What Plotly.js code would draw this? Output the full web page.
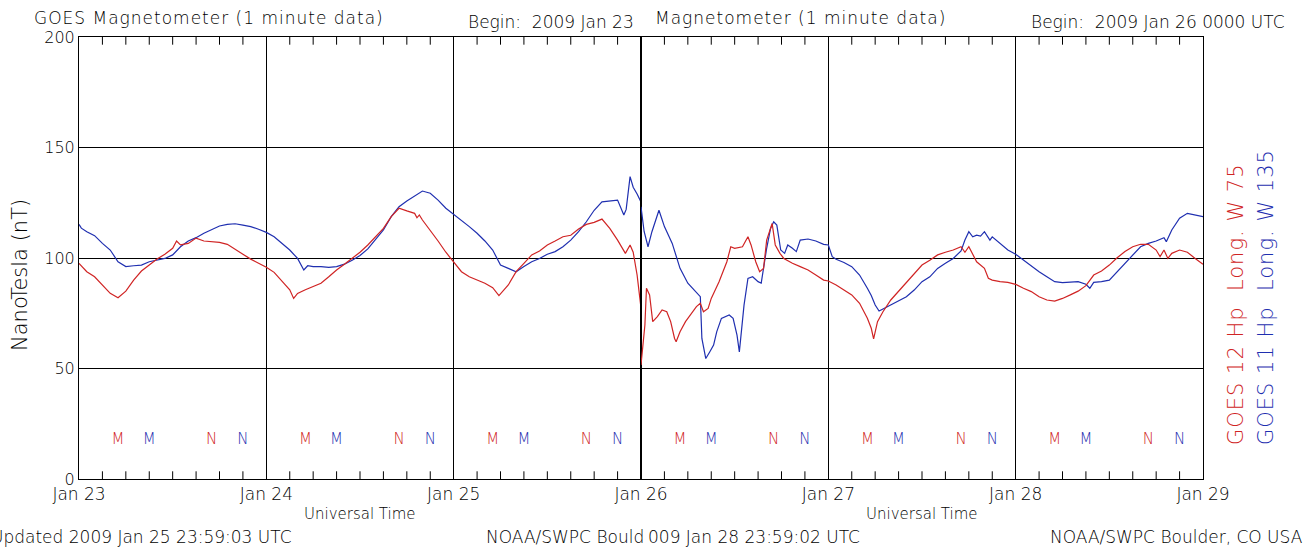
<!DOCTYPE html>
<html><head><meta charset="utf-8">
<script src="https://cdn.plot.ly/plotly-3.0.1.min.js"></script>
<style>html,body{margin:0;padding:0;background:#fff;overflow:hidden}#chart{width:1306px;height:548px}</style>
</head><body><div id="chart"></div>
<script>
// ---- data (hours since 2009 Jan 23 00:00 UT, field in nT) ----
const g12Hours = [0,1,2,3,4,5,6,7,8,9,10,11,12,12.5,13,14,15,16,17,18,19,20,21,22,23,24,25,26,27,27.5,28,29,30,31,32,33,34,35,36,37,38,39,40,41,42,43,43.3,43.6,44,45,46,47,48,49,50,51,52,53,53.8,55,56,57,58,59,60,61,62,63,64,65,66,67,68,69,70,70.6,71,71.5,71.9,71.98,
 72,72.5,72.7,73.1,73.5,74.1,74.7,75.3,75.8,76.3,76.5,77,77.7,78.2,78.7,79.1,79.6,80,80.6,81,82,83,83.5,84,85,85.7,86.1,86.7,87.2,87.7,88.1,88.8,89.2,89.8,90.3,91.4,92.4,93.4,94.4,95.4,96,97,98,99,100,101,101.5,101.8,102.3,103,104,105,106,107,108,109,110,111,112,113,113.5,114,114.5,115,116,116.5,117,118,119,120,121,122,123,124,125,126,127,128,129,130,131,132,133,134,135,136,137,138,138.5,139,139.5,140,141,142,143,144];
const g12Values = [97.6,93.8,91.5,87.8,84.0,82.0,85.0,90.0,94.1,96.8,99.5,101.7,104.4,107.7,105.9,106.6,109.0,107.7,107.4,107.1,106.2,104.1,101.7,99.5,97.6,95.8,93.5,89.3,85.6,81.7,84.0,85.6,87.1,88.6,91.5,94.6,97.2,99.8,102.6,105.9,109.6,113.4,118.7,122.5,121.3,120.2,118.2,119.5,117.2,112.7,107.7,102.6,98.0,93.8,91.5,90.0,88.6,86.6,83.0,87.8,93.8,97.6,101.4,103.2,105.9,107.7,109.6,110.3,113.1,115.2,116.1,117.6,113.4,108.1,102.1,105.9,102.6,92.3,81.8,78.0,
 51.6,69.7,86.3,83.3,71.2,73.5,76.5,75.7,71.2,63.6,62.1,66.6,71.2,73.5,75.7,78.0,79.5,75.7,77.2,81.7,89.3,98.3,105.1,104.4,105.1,109.6,105.9,98.3,93.8,95.3,108.1,115.6,105.9,102.1,99.8,97.6,96.1,94.6,92.3,90.0,89.6,87.8,85.5,83.3,79.5,72.7,68.2,63.4,71.2,75.7,81.0,85.0,89.3,93.0,96.8,99.0,101.4,102.6,103.6,105.1,102.6,105.1,101.4,98.3,95.3,90.8,90.0,89.3,89.0,88.1,86.3,84.8,82.5,81.0,80.5,81.7,83.3,85.0,87.5,92.3,94.1,96.8,100.1,102.9,105.1,106.2,106.2,103.6,100.6,103.6,99.8,102.1,103.6,102.6,99.8,97.2];

const g11Hours = [0,0.3,1,2,3,4,5,6,7,8,9,10,11,12,13,14,15,16,17,18,19,20,21,22,23,24,25,26,27,28,28.8,29.3,30,31,32,33,34,35,36,37,38,39,40,41,42,43,44,45,46,47,48,49,50,51,52,53,54,55,56,57,58,59,60,61,62,63,64,65,66,67,68,69,69.8,70.1,70.6,71.0,71.5,71.98,
 72,72.4,72.9,73.4,74.3,75,76,77,78,79,79.6,79.8,80.3,80.8,81.3,81.7,82.3,83.3,83.8,84.3,84.6,85.2,85.7,86.3,87,87.4,88.1,88.6,89,89.4,89.9,90.4,90.8,91.4,91.9,92.4,93.4,94.4,95.4,96,96.5,97,98,99,100,101,101.5,102,102.5,103,104,105,106,107,108,109,110,111,112,113,113.5,114,114.5,115,115.5,116,116.7,117,118,119,120,121,122,123,124,125,126,127,128,129,129.5,130,131,132,133,134,135,136,137,138,139,139.3,140,141,142,143,144];
const g11Values = [115.2,113.5,111.9,110.1,106.6,103.6,98.3,96.1,96.5,96.8,98.3,99.0,99.8,101.4,105.1,107.7,109.2,111.2,112.7,114.5,115.2,115.5,114.9,114.2,113.0,111.6,109.6,106.6,103.6,99.8,94.6,96.5,96.1,96.1,95.8,96.1,97.2,99.0,101.1,104.1,108.2,112.7,118.7,123.2,125.8,128.2,130.3,129.3,126.2,122.5,119.8,117.2,114.2,111.2,107.7,103.6,96.8,95.3,93.8,96.1,98.3,99.8,101.7,102.9,105.1,108.1,111.9,116.4,121.6,125.4,125.7,126.2,119.5,122.0,136.8,132.0,129.0,125.5,
 123.2,112.0,105.1,111.9,121.6,114.2,106.6,95.3,88.6,84.9,82.5,63.6,54.5,57.5,60.6,66.6,72.7,74.2,72.7,65.1,57.5,78.7,90.8,91.5,89.3,88.6,104.4,113.4,116.4,114.9,103.6,102.1,105.9,104.4,102.9,108.1,108.6,107.7,106.2,105.9,100.6,99.4,98.0,96.1,92.3,86.3,83.0,78.7,76.0,76.9,78.7,80.5,82.5,85.5,89.3,91.5,95.3,97.6,99.8,103.2,108.1,111.9,109.6,110.3,109.9,111.9,108.1,109.6,106.6,103.6,101.7,99.0,96.1,93.8,91.5,89.3,88.9,89.0,89.3,88.1,86.3,89.0,89.3,90.0,93.8,97.6,101.7,105.1,106.6,107.7,109.2,107.4,112.7,118.0,120.2,119.5,118.7];

// local midnight (M) / noon (N) markers, UT hour within each day
const markerUT = [5, 9, 17, 21];
const markerText = ['M', 'M', 'N', 'N'];
const markerSat = ['G12', 'G11', 'G12', 'G11'];
const markerLevel = 17.5;
const dayOffsets = [0, 1, 2, 3, 4, 5];

const leftTickHours = [0, 24, 48];
const leftTickText = ['Jan 23', 'Jan 24', 'Jan 25'];
const rightTickHours = [72, 96, 120, 144];
const rightTickText = ['Jan 26', 'Jan 27', 'Jan 28', 'Jan 29'];
const minorTickUT = [3, 6, 9, 12, 15, 18, 21];   // 3-hourly minor ticks within each day
const yTickVals = [0, 50, 100, 150, 200];
const yTickText = ['0', '50', '100', '150', '200'];

// ---- styling ----
const RED = '#d02424';
const BLUE = '#1f2fb0';
const FONT = 'DejaVu Sans';
const TXT = '#000';
const BASE = Date.UTC(2009, 0, 23);
const HOUR = 3600000;
const t = h => BASE + h * HOUR;
const F = (size, color) => ({family: FONT, size: size, color: color || TXT, weight: 300});

function split(hours, vals, right) {
  const x = [], y = [];
  hours.forEach((h, i) => { if ((h >= 72) === right) { x.push(t(h)); y.push(vals[i]); } });
  return {x, y};
}

const traces = [];
[[false, 'x', 'y'], [true, 'x2', 'y2']].forEach(([right, xa, ya]) => {
  // minor tick marks (axis decoration) at bottom and top frame, clipped to the inside half
  const tx = [], ty = [];
  dayOffsets.forEach(d => {
    if ((d >= 3) !== right) return;
    minorTickUT.forEach(u => { tx.push(t(d * 24 + u), t(d * 24 + u)); ty.push(0, 200); });
  });
  traces.push({x: tx, y: ty, xaxis: xa, yaxis: ya, mode: 'markers', cliponaxis: true,
    marker: {symbol: 'line-ns-open', size: 11, color: '#000', line: {color: '#000', width: 1}}, hoverinfo: 'skip'});

  const b = split(g11Hours, g11Values, right);
  const r = split(g12Hours, g12Values, right);
  traces.push({x: b.x, y: b.y, xaxis: xa, yaxis: ya, mode: 'lines', line: {color: BLUE, width: 1.2}, hoverinfo: 'skip'});
  traces.push({x: r.x, y: r.y, xaxis: xa, yaxis: ya, mode: 'lines', line: {color: RED, width: 1.2}, hoverinfo: 'skip'});
  ['G12', 'G11'].forEach(sat => {
    const mx = [], my = [], mt = [];
    dayOffsets.forEach(d => {
      if ((d >= 3) !== right) return;
      markerUT.forEach((u, i) => {
        if (markerSat[i] === sat) { mx.push(t(d * 24 + u)); my.push(markerLevel); mt.push(markerText[i]); }
      });
    });
    traces.push({x: mx, y: my, text: mt, mode: 'text', xaxis: xa, yaxis: ya,
      textfont: F(15, sat === 'G12' ? RED : BLUE), hoverinfo: 'skip'});
  });
});

// pixel -> paper helpers
const PX0 = 79, PW = 1124, PY1 = 479, PH = 442;
const px = v => (v - PX0) / PW;
const py = v => (PY1 - v) / PH;
function ann(x, y, text, o) {
  return Object.assign({xref: 'paper', yref: 'paper', x: px(x), y: py(y), text: text, showarrow: false,
    xanchor: 'left', yanchor: 'middle', font: F(17)}, o || {});
}
const sp = (s, ls) => '<span style="letter-spacing:' + ls + 'px">' + s + '</span>';

const annotations = [
  ann(32, 18, sp('GOES Magnetometer (1 minute data)', 1)),
  ann(466, 22, 'Begin:\u00a0 2009 Jan 23'),
  ann(653, 18, sp('Magnetometer (1 minute data)', 1)),
  ann(1029, 22, 'Begin:\u00a0 2009 Jan 26 0000 UTC'),
  ann(360, 514, 'Universal Time', {xanchor: 'center', font: F(15)}),
  ann(922, 514, 'Universal Time', {xanchor: 'center', font: F(15)}),
  ann(-11, 537, 'Updated 2009 Jan 25 23:59:03 UTC'),
  ann(484, 537, 'NOAA/SWPC Bould'),
  ann(646, 537, '009 Jan 28 23:59:02 UTC'),
  ann(1048, 537, 'NOAA/SWPC Boulder, CO USA'),
  ann(20, 275, 'NanoTesla (nT)', {xanchor: 'center', textangle: -90, font: F(21)}),
  ann(1236, 447, sp('GOES 12 Hp\u00a0 Long. W 75', 1), {xanchor: 'center', yanchor: 'bottom', textangle: -90, font: F(21, RED)}),
  ann(1266, 447, sp('GOES 11 Hp\u00a0 Long. W 135', 1), {xanchor: 'center', yanchor: 'bottom', textangle: -90, font: F(21, BLUE)})
];

const xBase = {type: 'date', tickmode: 'array', ticks: '', showgrid: true, gridcolor: '#000', gridwidth: 1,
  showline: true, linecolor: '#000', linewidth: 1, mirror: true, zeroline: false, tickfont: F(17)};
const yBase = {range: [0, 200], tickmode: 'array', tickvals: yTickVals, ticktext: yTickText, ticks: '',
  showgrid: true, gridcolor: '#000', gridwidth: 1, showline: true, linecolor: '#000', linewidth: 1,
  mirror: true, zeroline: false, tickfont: F(16)};

const layout = {
  width: 1306, height: 548, margin: {l: 79, r: 103, t: 37, b: 69},
  paper_bgcolor: '#fff', plot_bgcolor: '#fff', showlegend: false,
  font: F(16),
  xaxis: Object.assign({}, xBase, {domain: [0, 0.5], anchor: 'y', range: [t(0), t(72)],
    tickvals: leftTickHours.map(t), ticktext: leftTickText}),
  xaxis2: Object.assign({}, xBase, {domain: [0.5, 1], anchor: 'y2', range: [t(72), t(144)],
    tickvals: rightTickHours.map(t), ticktext: rightTickText}),
  yaxis: Object.assign({}, yBase, {anchor: 'x'}),
  yaxis2: Object.assign({}, yBase, {anchor: 'x2', showticklabels: false}),
  annotations: annotations
};

Plotly.newPlot('chart', traces, layout, {displayModeBar: false, staticPlot: true});
</script></body></html>
